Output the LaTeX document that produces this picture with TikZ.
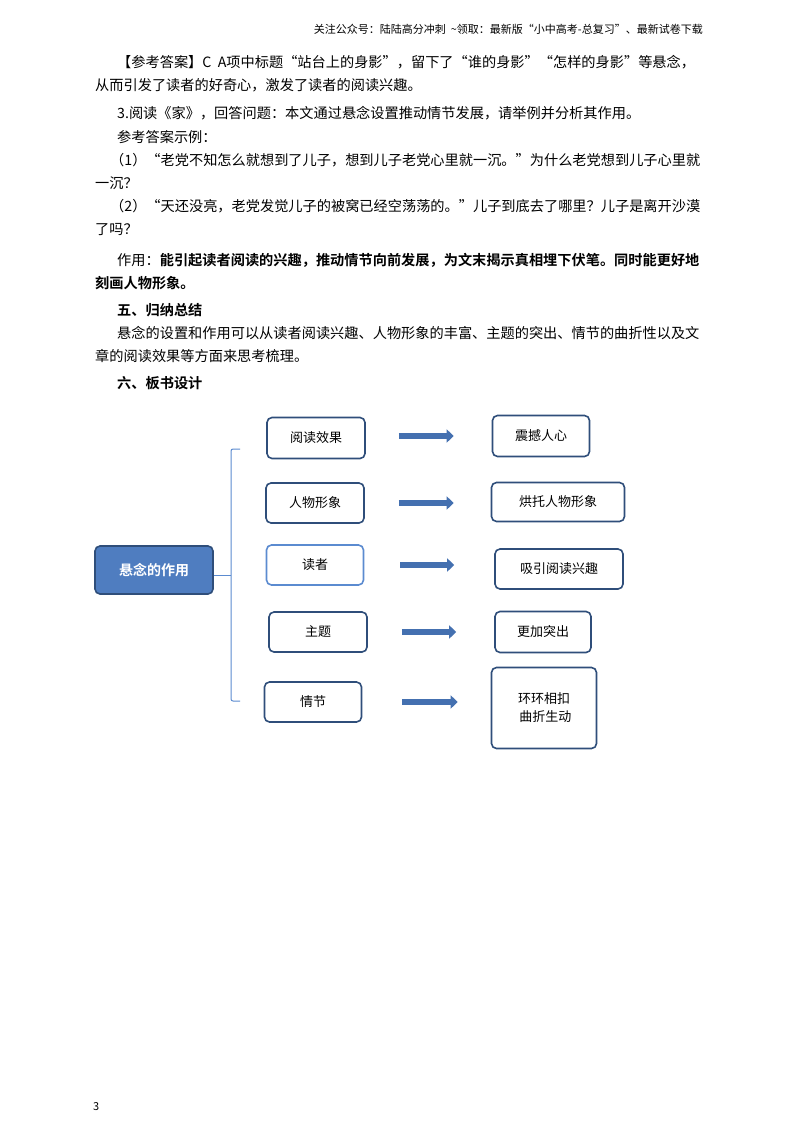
\documentclass[tikz,border=0pt]{standalone}
\usepackage{fontspec}
\setmainfont{Noto Sans CJK SC}[BoldFont={Noto Sans CJK SC Bold}]
\usetikzlibrary{arrows.meta}
\definecolor{bdr}{HTML}{2F4E7A}
\definecolor{mainf}{HTML}{4F7DC0}
\definecolor{arr}{HTML}{4470B0}
\definecolor{brk}{HTML}{5B8BD0}
\tikzset{
  txt/.style={anchor=base west,inner sep=0,font=\fontsize{14.2}{15}\selectfont},
  boxa/.style={draw=bdr,line width=1.6pt,rounded corners=5pt,fill=white,font=\fontsize{13}{18}\selectfont,align=center},
  harr/.style={draw=arr,line width=5.5pt,-{Triangle[length=7pt,width=13pt]}}
}
\begin{document}
\begin{tikzpicture}[x=1pt,y=-1pt]
\useasboundingbox (0,0) rectangle (800,1132);
\fill[white] (0,0) rectangle (800,1132);
\node[anchor=base east,inner sep=0,font=\fontsize{11}{12}\selectfont] (hdr) at (703,34) {关注公众号：陆陆高分冲刺\ \ \textasciitilde 领取：最新版“小中高考-总复习”、最新试卷下载};
\node[txt] (l1) at (117,67) {【参考答案】C\ \ A项中标题“站台上的身影”，留下了“谁的身影”“怎样的身影”等悬念，};
\node[txt] (l2) at (95,90) {从而引发了读者的好奇心，激发了读者的阅读兴趣。};
\node[txt] (l3) at (117,118) {3.阅读《家》，回答问题：本文通过悬念设置推动情节发展，请举例并分析其作用。};
\node[txt] (l4) at (117,142) {参考答案示例：};
\node[txt] (l5) at (110,165) {（1）“老党不知怎么就想到了儿子，想到儿子老党心里就一沉。”为什么老党想到儿子心里就};
\node[txt] (l6) at (95,188) {一沉？};
\node[txt] (l7) at (110,211) {（2）“天还没亮，老党发觉儿子的被窝已经空荡荡的。”儿子到底去了哪里？儿子是离开沙漠};
\node[txt] (l8) at (95,234) {了吗？};
\node[txt] (l9) at (117,265) {作用：\textbf{能引起读者阅读的兴趣，推动情节向前发展，为文末揭示真相埋下伏笔。同时能更好地}};
\node[txt] (l10) at (95,288) {\textbf{刻画人物形象。}};
\node[txt] (l11) at (117,315) {\textbf{五、归纳总结}};
\node[txt] (l12) at (117,338) {悬念的设置和作用可以从读者阅读兴趣、人物形象的丰富、主题的突出、情节的曲折性以及文};
\node[txt] (l13) at (95,361) {章的阅读效果等方面来思考梳理。};
\node[txt] (l14) at (117,388) {\textbf{六、板书设计}};
% diagram
\node[draw=bdr,line width=1.6pt,rounded corners=5pt,fill=mainf,text=white,font=\bfseries\fontsize{14}{16}\selectfont,minimum width=118pt,minimum height=48pt] (m) at (154,570) {悬念的作用};
\draw[brk,line width=1pt,rounded corners=2pt] (240,449) -- (231,449) -- (231,701) -- (240,701);
\coordinate (bt) at (231,575);
\draw[brk,line width=1pt] (bt) -- (bt -| m.east);
\node[boxa,minimum width=98pt,minimum height=41pt] (a1) at (316,438) {阅读效果};
\node[boxa,minimum width=98pt,minimum height=40pt] (a2) at (315,503) {人物形象};
\node[boxa,draw=brk,minimum width=97pt,minimum height=40pt] (a3) at (315,565) {读者};
\node[boxa,minimum width=98pt,minimum height=40pt] (a4) at (318,632) {主题};
\node[boxa,minimum width=97pt,minimum height=40pt] (a5) at (313,702) {情节};
\node[boxa,minimum width=97pt,minimum height=41pt] (b1) at (541,436) {震撼人心};
\node[boxa,minimum width=133pt,minimum height=39pt] (b2) at (558,502) {烘托人物形象};
\node[boxa,minimum width=128pt,minimum height=40pt] (b3) at (559,569) {吸引阅读兴趣};
\node[boxa,minimum width=96pt,minimum height=41pt] (b4) at (543,632) {更加突出};
\node[boxa,minimum width=105pt,minimum height=81pt] (b5) at (544,708) {环环相扣\\\ 曲折生动};
\draw[harr] ([xshift=33pt,yshift=2pt]a1.east) -- ([xshift=-38pt,yshift=2pt]a1.east -| b1.west);
\draw[harr] ([xshift=34pt]a2.east) -- ([xshift=-37pt]a2.east -| b2.west);
\draw[harr] ([xshift=36pt]a3.east) -- ([xshift=-40pt]a3.east -| b3.west);
\draw[harr] ([xshift=34pt]a4.east) -- ([xshift=-38pt]a4.east -| b4.west);
\draw[harr] ([xshift=40pt]a5.east) -- ([xshift=-33pt]a5.east -| b5.west);
\node[anchor=base west,inner sep=0,font=\fontsize{11}{12}\selectfont] (pg) at (93,1110) {3};
\end{tikzpicture}
\end{document}
